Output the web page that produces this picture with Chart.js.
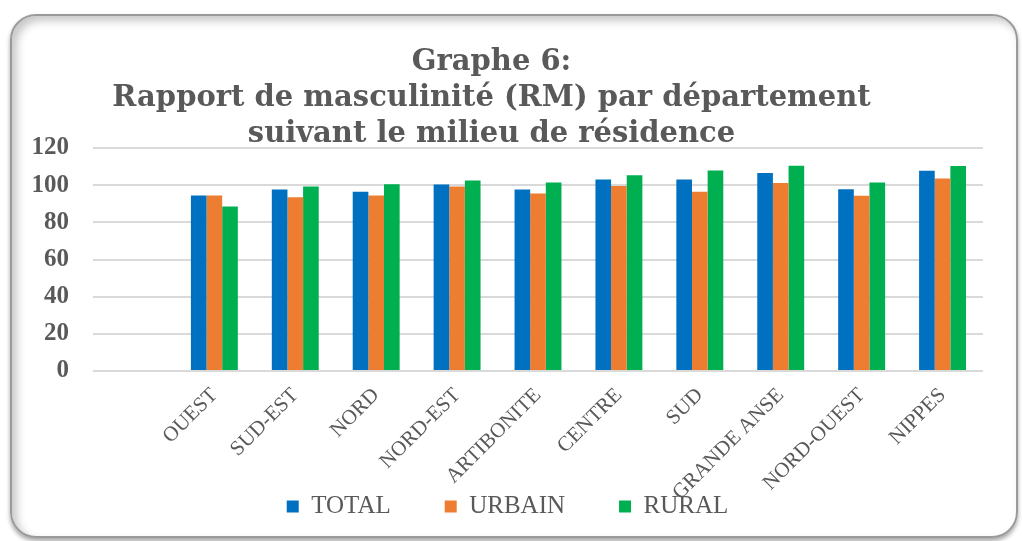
<!DOCTYPE html>
<html lang="fr">
<head>
<meta charset="utf-8">
<title>Graphe 6</title>
<script src="https://cdn.jsdelivr.net/npm/chart.js@4.4.1/dist/chart.umd.min.js"></script>
<style>
  html, body { margin: 0; padding: 0; background: #fff; }
  #cadre {
    position: absolute; left: 10px; top: 14px; width: 1004px; height: 520px;
    border: 2px solid #9a9a9a; border-radius: 26px;
    box-shadow: inset 5px 5px 8px rgba(0,0,0,0.22), 0 3px 4px rgba(0,0,0,0.35);
  }
  #myChart { position: absolute; left: 0; top: 0; }
</style>
</head>
<body>
<div id="cadre"></div>
<canvas id="myChart" width="1022" height="541"></canvas>
<script>
// Données (rapport de masculinité)
var departements = ['', 'OUEST', 'SUD-EST', 'NORD', 'NORD-EST', 'ARTIBONITE', 'CENTRE', 'SUD', 'GRANDE ANSE', 'NORD-OUEST', 'NIPPES'];
var total  = [null, 94.5, 97.7, 96.4, 100.4, 97.7, 103.1, 103.1, 106.5, 97.8, 107.7];
var urbain = [null, 94.5, 93.5, 94.5, 99.3, 95.5, 99.6, 96.4, 101.1, 94.3, 103.6];
var rural  = [null, 88.5, 99.3, 100.5, 102.5, 101.4, 105.4, 107.9, 110.4, 101.4, 110.3];
var titre = ['Graphe 6:', 'Rapport de masculinité (RM) par département', 'suivant le milieu de résidence'];

var gris = '#595959';

// la légende chevauche un peu les étiquettes de l'axe x, comme dans l'original
var decalerLegende = {
    id: 'decalerLegende',
    afterLayout: function (chart) {
        var l = chart.legend;
        var lab = l.options.labels;
        var h = lab.padding + lab.font.size + 10;
        l.top = chart.chartArea.bottom + 69;
        l.bottom = l.top + h;
        l.height = h;
        l.left += 16;
        l.right += 16;
    }
};

var ctx = document.getElementById('myChart').getContext('2d');
var myChart = new Chart(ctx, {
    type: 'bar',
    data: {
        labels: departements,
        datasets: [
            { label: 'TOTAL', data: total, backgroundColor: '#0070C0' },
            { label: 'URBAIN', data: urbain, backgroundColor: '#ED7D31' },
            { label: 'RURAL', data: rural, backgroundColor: '#00B050' }
        ]
    },
    plugins: [decalerLegende],
    options: {
        responsive: false,
        animation: false,
        datasets: {
            bar: { categoryPercentage: 0.58, barPercentage: 1.0 }
        },
        layout: { padding: { left: 0, right: 39, top: 0, bottom: 10 } },
        plugins: {
            title: {
                display: true,
                text: titre,
                color: gris,
                font: { family: 'DejaVu Serif', size: 29, weight: 'bold', lineHeight: '36px' },
                padding: { top: 44, bottom: -4 }
            },
            legend: {
                position: 'bottom',
                maxHeight: 20,
                labels: {
                    boxWidth: 12,
                    boxHeight: 12,
                    padding: 54,
                    color: gris,
                    font: { family: 'Liberation Serif', size: 25 }
                }
            },
            tooltip: { enabled: false }
        },
        scales: {
            x: {
                grid: { display: false },
                border: { display: false },
                ticks: {
                    autoSkip: false,
                    maxRotation: 45,
                    minRotation: 45,
                    padding: 4,
                    color: gris,
                    font: { family: 'Liberation Serif', size: 21 }
                },
                afterFit: function (scale) { scale.height = 140; }
            },
            y: {
                min: 0,
                max: 120,
                grid: { color: '#D9D9D9', lineWidth: 2, drawTicks: false },
                border: { display: false },
                ticks: {
                    stepSize: 20,
                    padding: 24,
                    color: gris,
                    font: { family: 'Liberation Serif', size: 25, weight: 'bold' }
                },
                afterFit: function (scale) { scale.width = 93; }
            }
        }
    }
});
</script>
</body>
</html>
